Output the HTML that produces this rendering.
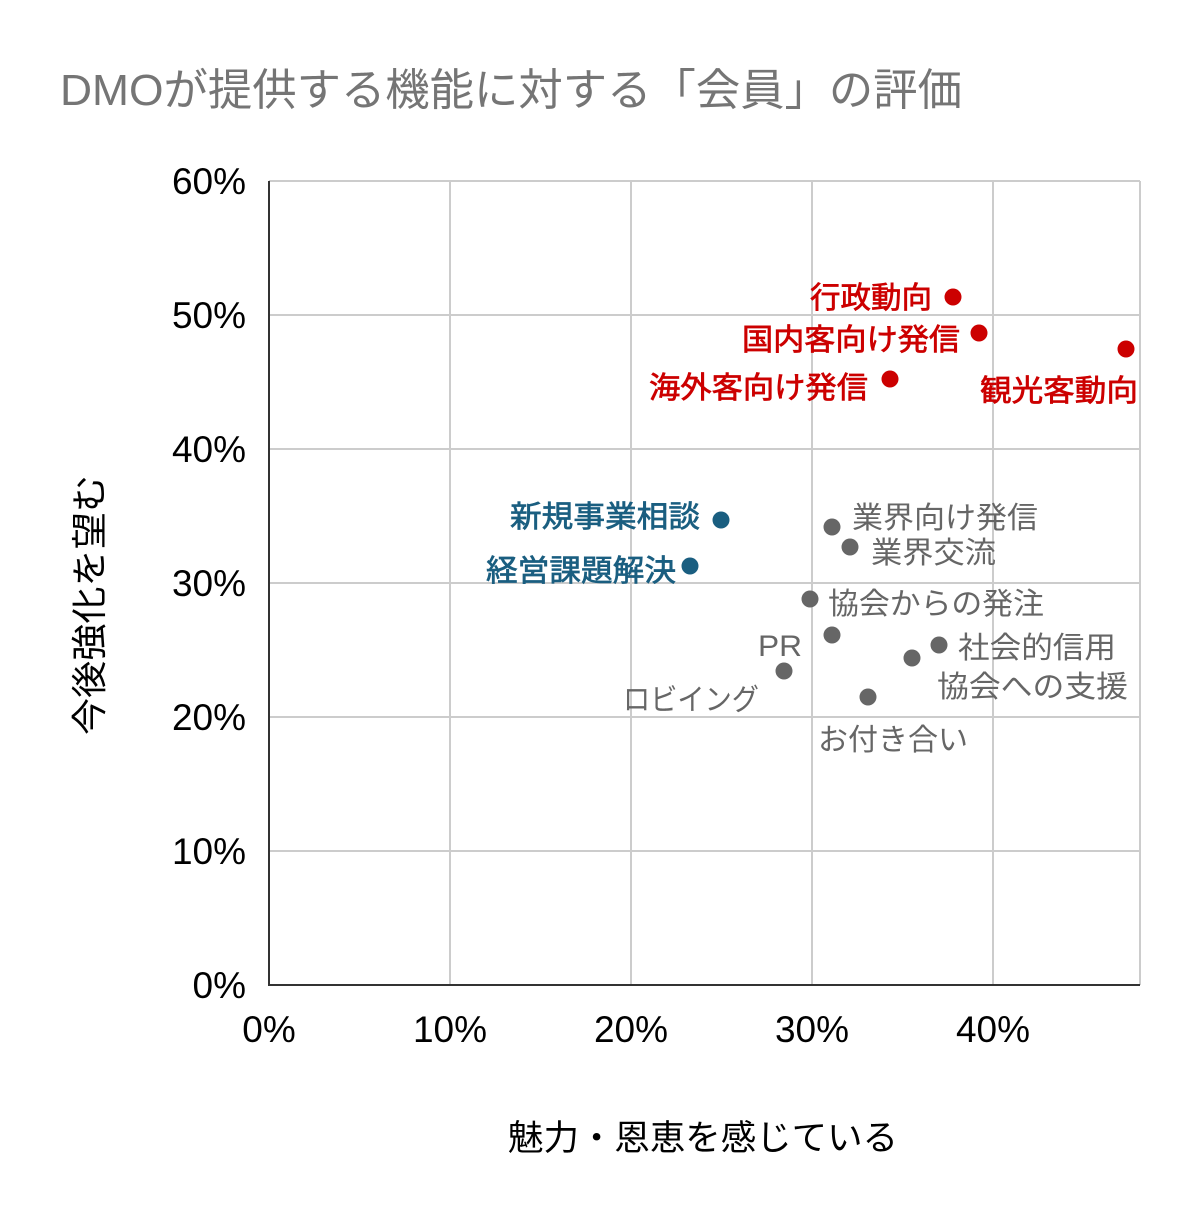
<!DOCTYPE html>
<html><head><meta charset="utf-8"><style>
html,body{margin:0;padding:0;background:#fff;}
svg text{font-family:"Liberation Sans","Noto Sans CJK JP",sans-serif;}
</style></head><body>
<svg width="1200" height="1220" viewBox="0 0 1200 1220" xmlns="http://www.w3.org/2000/svg">
<rect width="1200" height="1220" fill="#fff"/>
<text x="60" y="105" font-size="44" fill="#757575" textLength="902" lengthAdjust="spacingAndGlyphs">DMOが提供する機能に対する「会員」の評価</text>
<g stroke="#cccccc" stroke-width="2">
<line x1="269" y1="181" x2="1140" y2="181"/>
<line x1="269" y1="315" x2="1140" y2="315"/>
<line x1="269" y1="449" x2="1140" y2="449"/>
<line x1="269" y1="583" x2="1140" y2="583"/>
<line x1="269" y1="717" x2="1140" y2="717"/>
<line x1="269" y1="851" x2="1140" y2="851"/>
<line x1="450" y1="181" x2="450" y2="985"/>
<line x1="631" y1="181" x2="631" y2="985"/>
<line x1="812" y1="181" x2="812" y2="985"/>
<line x1="993" y1="181" x2="993" y2="985"/>
<line x1="1140" y1="181" x2="1140" y2="985"/>
</g>
<line x1="269" y1="181" x2="269" y2="986" stroke="#333" stroke-width="2"/>
<line x1="268" y1="985" x2="1140" y2="985" stroke="#333" stroke-width="2"/>
<g font-size="37" fill="#000" text-anchor="end">
<text x="246" y="194">60%</text>
<text x="246" y="328">50%</text>
<text x="246" y="462">40%</text>
<text x="246" y="596">30%</text>
<text x="246" y="730">20%</text>
<text x="246" y="864">10%</text>
<text x="246" y="998">0%</text>
</g>
<g font-size="37" fill="#000" text-anchor="middle">
<text x="269" y="1042">0%</text>
<text x="450" y="1042">10%</text>
<text x="631" y="1042">20%</text>
<text x="812" y="1042">30%</text>
<text x="993" y="1042">40%</text>
</g>
<text x="508" y="1150" font-size="35" fill="#000" textLength="390" lengthAdjust="spacingAndGlyphs">魅力・恩恵を感じている</text>
<text transform="translate(102,735) rotate(-90)" font-size="36" fill="#000" textLength="260" lengthAdjust="spacingAndGlyphs">今後強化を望む</text>
<g fill="#cc0000">
<circle cx="953" cy="297" r="8.5"/><circle cx="979" cy="333" r="8.5"/><circle cx="1126" cy="349" r="8.5"/><circle cx="890" cy="379" r="8.5"/>
</g>
<g font-size="30" fill="#cc0000" stroke="#cc0000" stroke-width="0.7">
<text x="810" y="308" textLength="122" lengthAdjust="spacingAndGlyphs">行政動向</text>
<text x="742" y="350" textLength="218" lengthAdjust="spacingAndGlyphs">国内客向け発信</text>
<text x="649" y="398" textLength="219" lengthAdjust="spacingAndGlyphs">海外客向け発信</text>
<text x="980" y="401" textLength="158" lengthAdjust="spacingAndGlyphs">観光客動向</text>
</g>
<g fill="#1a5e80">
<circle cx="721" cy="520" r="8.5"/><circle cx="690" cy="566" r="8.5"/>
</g>
<g font-size="30" fill="#1a5e80" stroke="#1a5e80" stroke-width="0.7">
<text x="510" y="527" textLength="190" lengthAdjust="spacingAndGlyphs">新規事業相談</text>
<text x="486" y="581" textLength="190" lengthAdjust="spacingAndGlyphs">経営課題解決</text>
</g>
<g fill="#666">
<circle cx="832" cy="527" r="8.5"/><circle cx="850" cy="547" r="8.5"/><circle cx="810" cy="599" r="8.5"/>
<circle cx="832" cy="635" r="8.5"/><circle cx="784" cy="671" r="8.5"/><circle cx="912" cy="658" r="8.5"/>
<circle cx="939" cy="645" r="8.5"/><circle cx="868" cy="697" r="8.5"/>
</g>
<g font-size="30" fill="#666">
<text x="852" y="528" textLength="186" lengthAdjust="spacingAndGlyphs">業界向け発信</text>
<text x="871" y="563" textLength="125" lengthAdjust="spacingAndGlyphs">業界交流</text>
<text x="828" y="614" textLength="216" lengthAdjust="spacingAndGlyphs">協会からの発注</text>
<text x="758" y="656" textLength="44" lengthAdjust="spacingAndGlyphs">PR</text>
<text x="958" y="658" textLength="158" lengthAdjust="spacingAndGlyphs">社会的信用</text>
<text x="937" y="697" textLength="191" lengthAdjust="spacingAndGlyphs">協会への支援</text>
<text x="623" y="710" textLength="136" lengthAdjust="spacingAndGlyphs">ロビイング</text>
<text x="818" y="750" textLength="150" lengthAdjust="spacingAndGlyphs">お付き合い</text>
</g>
</svg>
</body></html>
